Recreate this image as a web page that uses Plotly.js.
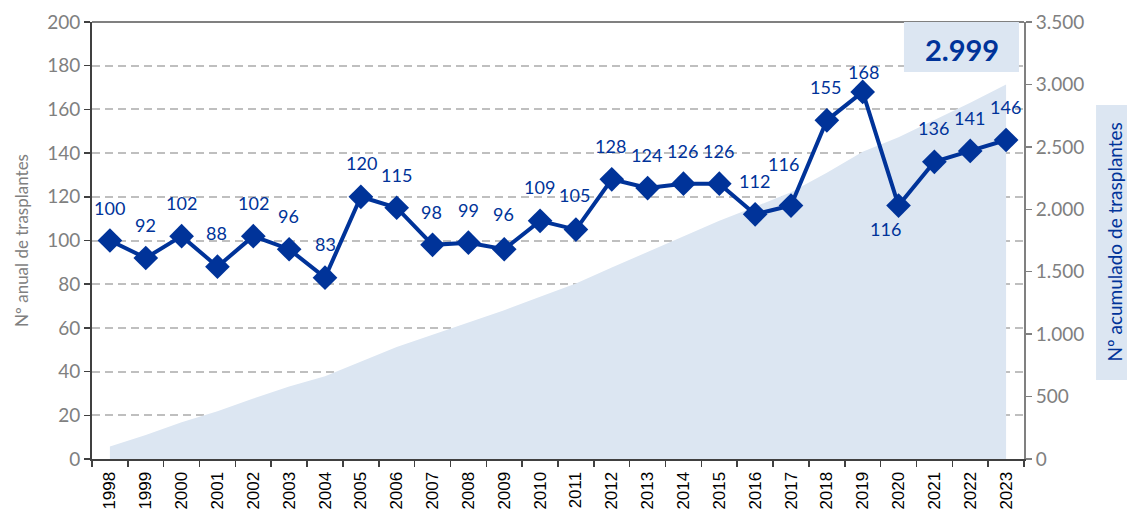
<!DOCTYPE html>
<html>
<head>
<meta charset="utf-8">
<script src="https://cdn.plot.ly/plotly-3.0.1.min.js"></script>
<style>html,body{margin:0;padding:0;background:#fff;}#chart{width:1127px;height:513px;}</style>
</head>
<body>
<div id="chart"></div>
<script>
// ---- data ----
const years = ["1998","1999","2000","2001","2002","2003","2004","2005","2006","2007","2008","2009","2010","2011","2012","2013","2014","2015","2016","2017","2018","2019","2020","2021","2022","2023"];
const annual = [100,92,102,88,102,96,83,120,115,98,99,96,109,105,128,124,126,126,112,116,155,168,116,136,141,146];
const cumulative = [100,192,294,382,484,580,663,783,898,996,1095,1191,1300,1405,1533,1657,1783,1909,2021,2137,2292,2460,2576,2712,2853,2999];
const totalLabel = "2.999";
const leftTitle = "Nº anual de trasplantes";
const rightTitle = "Nº acumulado de trasplantes";

// ---- label offsets (style) ----
const labelDx = [0,0,0,-1,0,-1,0,1,0,-1,0,-1,-1,-1,-1,-1,-1,-1,-1,-8,-1,1,-13,-1,-1,-1];
const labelDy = [33,33,33,34,33,33,34,34,33,33,33,35,34,35,33,33,33,33,33,42,33,20,-23,34,33,33];

const blue = "#003399";
const gray = "#808080";
const dark = "#404040";
const fillc = "#dce6f2";
const numFont = "Lato, 'Open Sans', sans-serif";

const traces = [
  {
    type: "scatter", mode: "lines", x: years, y: cumulative, yaxis: "y",
    fill: "tozeroy", fillcolor: fillc, line: {width: 0, color: fillc},
    hoverinfo: "skip", showlegend: false
  },
  {
    type: "scatter", mode: "lines+markers", x: years, y: annual, yaxis: "y2",
    line: {color: blue, width: 4},
    marker: {symbol: "diamond", size: 19, color: blue},
    showlegend: false
  }
];

const annotations = years.map((yr, i) => ({
  x: i, y: annual[i], xref: "x", yref: "y2", text: String(annual[i]),
  showarrow: false, xshift: labelDx[i], yshift: labelDy[i],
  xanchor: "center", yanchor: "middle",
  font: {family: numFont, size: 18, color: blue}
}));
annotations.push({
  x: 0.9335, y: 0.936, xref: "paper", yref: "paper", text: "<b>" + totalLabel + "</b>",
  xanchor: "center", yanchor: "middle",
  showarrow: false, font: {family: numFont, size: 29, color: blue}
});
annotations.push({
  x: 1.0966, y: 0.4954, xref: "paper", yref: "paper", text: rightTitle,
  xanchor: "center", yanchor: "middle", borderpad: 0,
  textangle: -90, showarrow: false, font: {family: numFont, size: 19, color: blue}
});

const layout = {
  width: 1127, height: 513,
  margin: {l: 92, r: 103, t: 22, b: 54},
  paper_bgcolor: "#fff", plot_bgcolor: "#fff",
  separators: ",.",
  showlegend: false,
  xaxis: {
    type: "category", range: [-0.5, years.length - 0.5], autorange: false,
    tickson: "boundaries", ticks: "outside", ticklen: 6, tickwidth: 1.5,
    tickcolor: dark, showline: true, linecolor: dark, linewidth: 2,
    tickangle: -90, ticklabelstandoff: 4,
    tickfont: {family: "'Liberation Sans', Arial, sans-serif", size: 17, color: "#000"},
    showgrid: false, zeroline: false, fixedrange: true
  },
  yaxis: {
    side: "right", range: [0, 3500], autorange: false, dtick: 500, tick0: 0,
    ticks: "outside", ticklen: 6, tickcolor: gray, tickwidth: 1.5,
    showline: true, linecolor: gray, linewidth: 2,
    showgrid: false, zeroline: false, separatethousands: true,
    tickfont: {family: numFont, size: 19, color: gray}
  },
  yaxis2: {
    overlaying: "y", side: "left", range: [0, 200], autorange: false, dtick: 20, tick0: 0,
    ticks: "outside", ticklen: 6, tickcolor: dark, tickwidth: 1.5,
    showline: true, linecolor: dark, linewidth: 2,
    showgrid: true, gridcolor: "#bfbfbf", gridwidth: 2, griddash: "8px,5px",
    zeroline: false,
    tickfont: {family: numFont, size: 19, color: gray},
    title: {text: leftTitle, font: {family: numFont, size: 17, color: gray}, standoff: 14}
  },
  shapes: [
    {type: "line", xref: "paper", yref: "paper", x0: 0, x1: 1, y0: 1, y1: 1, line: {color: gray, width: 2}},
    {type: "rect", xref: "paper", yref: "paper", x0: 0.8712, x1: 0.9946, y0: 0.8856, y1: 1.0, fillcolor: fillc, line: {width: 0}, layer: "above"},
    {type: "rect", xref: "paper", yref: "paper", x0: 1.0773, x1: 1.1105, y0: 0.1808, y1: 0.810, fillcolor: fillc, line: {width: 0}, layer: "below"}
  ],
  annotations: annotations
};

Plotly.newPlot("chart", traces, layout, {displayModeBar: false, staticPlot: true});
</script>
</body>
</html>
